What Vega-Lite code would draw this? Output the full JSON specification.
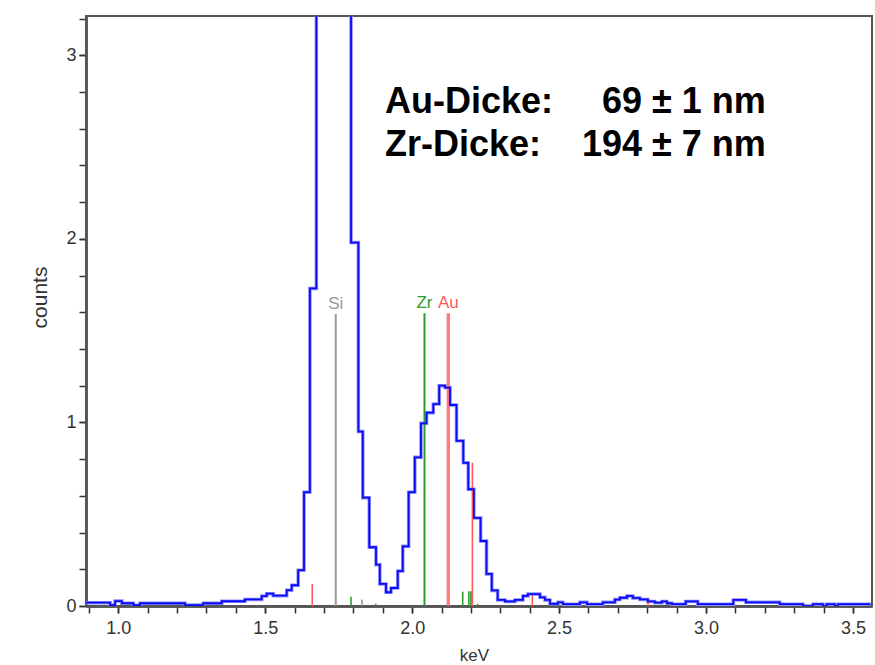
{
  "$schema": "https://vega.github.io/schema/vega-lite/v6.json",
  "width": 786,
  "height": 590,
  "autosize": {"type": "none"},
  "padding": {"left": 86, "top": 16, "right": 3, "bottom": 59},
  "background": "white",
  "datasets": {
    "spectrum": [
      {"e": 0.890, "c": 0.018}, {"e": 0.972, "c": 0.005}, {"e": 0.989, "c": 0.027}, {"e": 1.012, "c": 0.015},
      {"e": 1.051, "c": 0.004}, {"e": 1.074, "c": 0.015}, {"e": 1.227, "c": 0.005}, {"e": 1.289, "c": 0.015},
      {"e": 1.352, "c": 0.026}, {"e": 1.431, "c": 0.036}, {"e": 1.488, "c": 0.054}, {"e": 1.505, "c": 0.067},
      {"e": 1.527, "c": 0.056}, {"e": 1.573, "c": 0.086}, {"e": 1.590, "c": 0.113}, {"e": 1.612, "c": 0.195},
      {"e": 1.632, "c": 0.62}, {"e": 1.652, "c": 1.73}, {"e": 1.674, "c": 5}, {"e": 1.694, "c": 9},
      {"e": 1.715, "c": 14}, {"e": 1.736, "c": 15}, {"e": 1.754, "c": 11}, {"e": 1.773, "c": 6},
      {"e": 1.792, "c": 1.98}, {"e": 1.817, "c": 0.95}, {"e": 1.832, "c": 0.59}, {"e": 1.854, "c": 0.32},
      {"e": 1.877, "c": 0.225}, {"e": 1.890, "c": 0.12}, {"e": 1.911, "c": 0.075}, {"e": 1.928, "c": 0.098},
      {"e": 1.951, "c": 0.19}, {"e": 1.968, "c": 0.325}, {"e": 1.988, "c": 0.62}, {"e": 2.009, "c": 0.81},
      {"e": 2.030, "c": 0.995}, {"e": 2.049, "c": 1.053}, {"e": 2.072, "c": 1.10}, {"e": 2.092, "c": 1.20},
      {"e": 2.112, "c": 1.19}, {"e": 2.129, "c": 1.095}, {"e": 2.151, "c": 0.90}, {"e": 2.174, "c": 0.78},
      {"e": 2.191, "c": 0.636}, {"e": 2.210, "c": 0.48}, {"e": 2.233, "c": 0.354}, {"e": 2.253, "c": 0.175},
      {"e": 2.271, "c": 0.085}, {"e": 2.291, "c": 0.033}, {"e": 2.316, "c": 0.025}, {"e": 2.350, "c": 0.033},
      {"e": 2.377, "c": 0.055}, {"e": 2.394, "c": 0.065}, {"e": 2.435, "c": 0.047}, {"e": 2.452, "c": 0.033},
      {"e": 2.469, "c": 0.012}, {"e": 2.496, "c": 0.02}, {"e": 2.513, "c": 0.01}, {"e": 2.571, "c": 0.02},
      {"e": 2.595, "c": 0.01}, {"e": 2.649, "c": 0.02}, {"e": 2.690, "c": 0.035}, {"e": 2.707, "c": 0.045},
      {"e": 2.731, "c": 0.055}, {"e": 2.751, "c": 0.044}, {"e": 2.775, "c": 0.036}, {"e": 2.802, "c": 0.025},
      {"e": 2.826, "c": 0.018}, {"e": 2.850, "c": 0.025}, {"e": 2.867, "c": 0.015}, {"e": 2.884, "c": 0.01},
      {"e": 2.931, "c": 0.025}, {"e": 2.972, "c": 0.01}, {"e": 3.093, "c": 0.033}, {"e": 3.136, "c": 0.02},
      {"e": 3.251, "c": 0.01}, {"e": 3.330, "c": 0.0}, {"e": 3.364, "c": 0.01}, {"e": 3.398, "c": 0.0},
      {"e": 3.411, "c": 0.01}, {"e": 3.438, "c": 0.0}, {"e": 3.449, "c": 0.01}, {"e": 3.560, "c": 0.01}
    ],
    "markers": [
      {"el": "Si", "e": 1.740, "h": 1.59, "main": true},
      {"el": "Zr", "e": 2.042, "h": 1.595, "main": true},
      {"el": "Au", "e": 2.123, "h": 1.595, "main": true},
      {"el": "Au", "e": 2.205, "h": 0.78, "main": false},
      {"el": "Au", "e": 1.660, "h": 0.12, "main": false},
      {"el": "Zr", "e": 1.792, "h": 0.05, "main": false},
      {"el": "Si", "e": 1.829, "h": 0.035, "main": false},
      {"el": "Zr", "e": 1.876, "h": 0.012, "main": false},
      {"el": "Zr", "e": 2.172, "h": 0.078, "main": false},
      {"el": "Zr", "e": 2.193, "h": 0.08, "main": false},
      {"el": "Zr", "e": 2.200, "h": 0.08, "main": false},
      {"el": "Zr", "e": 2.223, "h": 0.012, "main": false},
      {"el": "Au", "e": 2.409, "h": 0.065, "main": false},
      {"el": "Au", "e": 2.803, "h": 0.022, "main": false},
      {"el": "Au", "e": 2.883, "h": 0.01, "main": false}
    ],
    "notes": [
      {"label": "Au-Dicke:", "e": 1.9075, "c": 2.686, "side": "left"},
      {"label": "Zr-Dicke:", "e": 1.9075, "c": 2.45, "side": "left"},
      {"label": "69 ± 1 nm", "e": 3.2038, "c": 2.686, "side": "right"},
      {"label": "194 ± 7 nm", "e": 3.2038, "c": 2.45, "side": "right"}
    ]
  },
  "config": {
    "view": {"stroke": "#555555", "strokeWidth": 2},
    "axis": {
      "grid": false,
      "domainColor": "#555555",
      "domainWidth": 2.5,
      "tickColor": "#333333",
      "tickWidth": 1.5,
      "tickSize": 7,
      "labelFont": "Liberation Sans",
      "labelFontSize": 18,
      "labelColor": "#333333",
      "titleFont": "Liberation Sans",
      "titleFontWeight": "normal",
      "titleColor": "#333333",
      "labelOverlap": false,
      "labelFlush": false
    }
  },
  "resolve": {"axis": {"x": "independent", "y": "independent"}},
  "layer": [
    {
      "data": {"name": "spectrum"},
      "mark": {"type": "line", "interpolate": "step-after", "stroke": "#8c8cff", "strokeWidth": 3.5, "clip": true},
      "encoding": {
        "x": {
          "field": "e", "type": "quantitative",
          "scale": {"domain": [0.890, 3.565], "nice": false, "zero": false},
          "axis": {
            "orient": "bottom",
            "title": null,
            "labels": false,
            "values": [0.9,1.0,1.1,1.2,1.3,1.4,1.5,1.6,1.7,1.8,1.9,2.0,2.1,2.2,2.3,2.4,2.5,2.6,2.7,2.8,2.9,3.0,3.1,3.2,3.3,3.4,3.5]
          }
        },
        "y": {
          "field": "c", "type": "quantitative",
          "scale": {"domain": [0, 3.214], "nice": false},
          "axis": {
            "orient": "left",
            "title": null,
            "labels": false,
            "values": [0,0.2,0.4,0.6,0.8,1.0,1.2,1.4,1.6,1.8,2.0,2.2,2.4,2.6,2.8,3.0,3.2]
          }
        }
      }
    },
    {
      "data": {"name": "markers"},
      "transform": [{"filter": "datum.main && datum.el != 'Au'"}],
      "mark": {"type": "rule", "strokeWidth": 2},
      "encoding": {
        "x": {"field": "e", "type": "quantitative", "axis": null},
        "y": {"field": "h", "type": "quantitative", "axis": null},
        "y2": {"datum": 0},
        "color": {"field": "el", "type": "nominal", "scale": {"domain": ["Si", "Zr", "Au"], "range": ["#999999", "#2e9b2e", "#ff5a5a"]}, "legend": null}
      }
    },
    {
      "data": {"name": "markers"},
      "transform": [{"filter": "datum.main && datum.el == 'Au'"}],
      "mark": {"type": "rule", "strokeWidth": 3.4, "opacity": 0.8},
      "encoding": {
        "x": {"field": "e", "type": "quantitative", "axis": null},
        "y": {"field": "h", "type": "quantitative", "axis": null},
        "y2": {"datum": 0},
        "color": {"field": "el", "type": "nominal", "legend": null}
      }
    },
    {
      "data": {"name": "markers"},
      "transform": [{"filter": "!datum.main"}],
      "mark": {"type": "rule", "strokeWidth": 1.6},
      "encoding": {
        "x": {"field": "e", "type": "quantitative", "axis": null},
        "y": {"field": "h", "type": "quantitative", "axis": null},
        "y2": {"datum": 0},
        "color": {"field": "el", "type": "nominal", "legend": null}
      }
    },
    {
      "data": {"name": "spectrum"},
      "mark": {"type": "line", "interpolate": "step-after", "stroke": "#0a0af5", "strokeWidth": 1.8, "clip": true},
      "encoding": {
        "x": {
          "field": "e", "type": "quantitative",
          "axis": {
            "orient": "bottom",
            "title": "keV",
            "titleFontSize": 17,
            "titleX": 388,
            "titleY": 54,
            "titleBaseline": "alphabetic",
            "values": [1.0, 1.5, 2.0, 2.5, 3.0, 3.5],
            "format": ".1f",
            "labelPadding": 6
          }
        },
        "y": {
          "field": "c", "type": "quantitative",
          "axis": {
            "orient": "left",
            "title": "counts",
            "titleFontSize": 21,
            "titleX": -46,
            "titleY": 281,
            "titleAngle": -90,
            "titleBaseline": "middle",
            "titleAlign": "center",
            "values": [0, 1, 2, 3],
            "format": "d",
            "labelPadding": 3
          }
        }
      }
    },
    {
      "data": {"name": "markers"},
      "transform": [{"filter": "datum.main"}],
      "mark": {"type": "text", "font": "Liberation Sans", "fontSize": 17, "baseline": "alphabetic", "align": "center", "dy": -5},
      "encoding": {
        "x": {"field": "e", "type": "quantitative", "axis": null},
        "y": {"field": "h", "type": "quantitative", "axis": null},
        "text": {"field": "el", "type": "nominal"},
        "color": {"field": "el", "type": "nominal", "legend": null}
      }
    },
    {
      "data": {"name": "notes"},
      "transform": [{"filter": "datum.side == 'left'"}],
      "mark": {"type": "text", "font": "Liberation Sans", "fontWeight": "bold", "fontSize": 36, "baseline": "alphabetic", "align": "left", "color": "#000000"},
      "encoding": {
        "x": {"field": "e", "type": "quantitative", "axis": null},
        "y": {"field": "c", "type": "quantitative", "axis": null},
        "text": {"field": "label", "type": "nominal"}
      }
    },
    {
      "data": {"name": "notes"},
      "transform": [{"filter": "datum.side == 'right'"}],
      "mark": {"type": "text", "font": "Liberation Sans", "fontWeight": "bold", "fontSize": 36, "baseline": "alphabetic", "align": "right", "color": "#000000"},
      "encoding": {
        "x": {"field": "e", "type": "quantitative", "axis": null},
        "y": {"field": "c", "type": "quantitative", "axis": null},
        "text": {"field": "label", "type": "nominal"}
      }
    }
  ]
}
